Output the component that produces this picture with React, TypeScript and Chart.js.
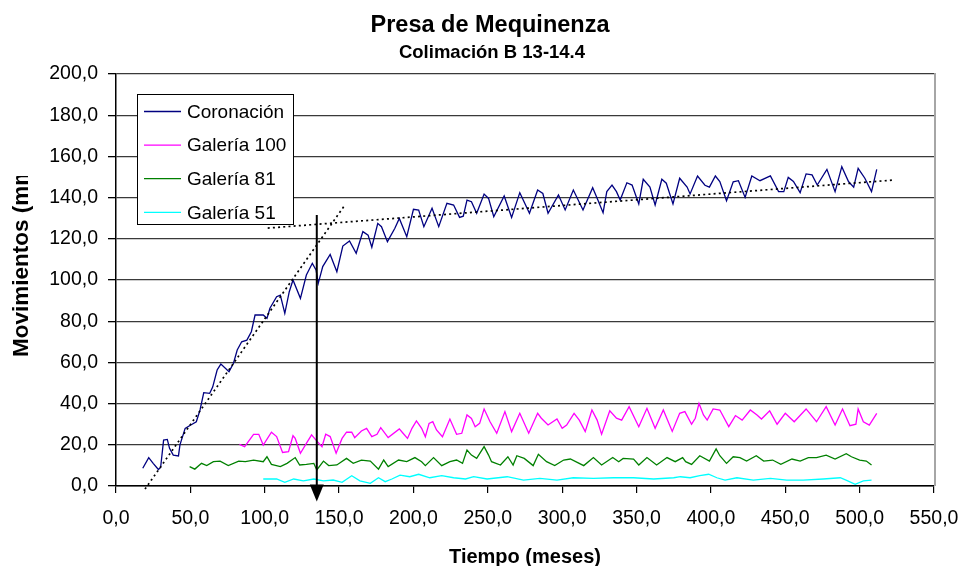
import React, { useEffect, useRef } from 'react';
import { Chart, registerables } from 'chart.js';

Chart.register(...registerables);

const FONT = '"Liberation Sans", Arial, Helvetica, sans-serif';

// ---- Data ----
const coronacionX = [18, 22, 25, 28.5, 30, 32, 34.5, 36, 38.5, 42, 43, 46.5, 50, 54, 56.5, 59, 63, 65, 68, 70.5, 76, 79, 81.5, 84.5, 88, 91, 93.5, 99, 101.5, 103.5, 108, 110.5, 113.5, 116.5, 119, 124, 128, 132, 134.5, 136, 139, 144, 148.5, 152.5, 157, 161.5, 166, 169.5, 172, 176, 178.5, 182.5, 187.5, 190.5, 195.5, 200, 203.5, 207, 212.5, 217, 222.5, 227, 231, 233.5, 236, 239, 242.5, 247.5, 250.5, 254, 261, 266, 271.5, 278, 283.5, 287, 290.5, 297.5, 302, 307.5, 314, 320.5, 324, 327.5, 330, 333.5, 336.5, 339, 343.5, 347, 351.5, 354.5, 359, 362.5, 367, 370, 374.5, 379, 384, 386, 391, 396, 399, 403, 406, 410.5, 415, 418.5, 423, 427.5, 433, 440, 445.5, 449, 452, 455.5, 460, 464, 468, 471.5, 478, 483.5, 488, 492.5, 496, 499, 503.5, 508, 511.5];
const coronacionY = [8.6, 13.8, 11, 8, 9, 22.3, 22.6, 18.3, 15, 14.6, 20, 28, 29.5, 31.2, 36.9, 45.3, 45, 48, 56.3, 59.2, 55.5, 59.6, 66, 70, 70.8, 74.9, 83, 83, 81.4, 86.3, 91.9, 92.7, 83.8, 94.3, 100, 91.1, 102.4, 108.1, 104.9, 98.4, 106.5, 112.4, 104, 116.5, 119, 113, 123.5, 121.8, 115.9, 127.5, 125.9, 118.6, 125.1, 129.9, 121, 134.3, 133.9, 125.9, 134.8, 125.9, 137.2, 136.4, 130.4, 131, 138.8, 138, 132.4, 141.7, 139.6, 130.7, 140.8, 130.4, 142.4, 132.4, 143.7, 142, 132.4, 141.3, 134, 143.7, 134, 144.8, 138.8, 132.7, 142.9, 146.1, 142.9, 138.8, 147.2, 146.1, 136.9, 148.9, 145.1, 136.4, 148.9, 147, 136.9, 149.4, 145.1, 141.8, 150.5, 146, 145.1, 150.5, 147.8, 138.5, 147.7, 148.2, 140.1, 150.5, 148.2, 150.5, 142.9, 142.9, 149.8, 147.8, 142.4, 151.5, 151, 146.1, 153.7, 142.9, 155, 147.8, 145.1, 154.2, 149.4, 142.9, 153.7];

const galeria100X = [83, 86.5, 92.5, 96, 99, 104.5, 108, 112, 116, 119, 120.5, 124, 128, 131.5, 134.5, 138.5, 141, 144, 148, 152, 155, 158.5, 160.5, 165, 168.5, 172, 175.5, 178, 183, 190.5, 193, 196, 199, 202, 205.5, 208, 210.5, 213, 215.5, 219.5, 224.5, 229, 232.5, 236, 239, 241.5, 244.5, 247.5, 251.5, 256, 261.5, 266, 271.5, 277.5, 283.5, 286, 290.5, 296.5, 300, 303, 308, 311.5, 315.5, 320, 323.5, 326.5, 332, 336.5, 340, 345, 351.5, 357, 362.5, 368, 374, 379, 382.5, 387, 389.5, 392, 395, 397.5, 401.5, 406, 412, 416.5, 421, 426.5, 431, 434, 439.5, 444.5, 450, 456, 464, 471, 477.5, 483.5, 488.5, 493.5, 497.5, 499, 502.5, 506.5, 511.5];
const galeria100Y = [20.2, 19.1, 25.1, 25.1, 19.9, 26.1, 24, 16.3, 16.7, 24.4, 23.1, 15.9, 20.7, 24.8, 22.3, 19.1, 25.1, 24, 15.9, 23.1, 26.1, 26.1, 23.5, 26.7, 28, 24, 25.1, 28.3, 23.5, 27.7, 25.6, 23.1, 28, 31.6, 28, 23.9, 30.4, 31.2, 27.2, 23.9, 32.5, 25.1, 25.6, 34.5, 32.8, 28.8, 30.4, 37.4, 31.2, 25.6, 36.1, 26.4, 35.3, 25.6, 35.3, 32.9, 29.6, 32.5, 28, 29.6, 35.3, 32, 26.4, 36.9, 32, 25.1, 36.5, 32.9, 32, 38.5, 28.8, 37.7, 28, 36.9, 26.5, 35.3, 36.1, 30, 32.9, 40.1, 34.5, 32, 37.4, 36.9, 28.8, 34.2, 32, 36.9, 34.5, 32.5, 36.5, 30, 35.3, 31.2, 37.4, 31.2, 38.5, 29.6, 37.4, 29.3, 30, 37.4, 31.2, 29.6, 35.3];

const galeria81X = [49.5, 53, 57.5, 61, 65.5, 70, 75.5, 82.5, 87, 92.5, 99, 101.5, 104.5, 110.5, 115, 120.5, 123.5, 128, 133, 135, 139.5, 143, 148.5, 155, 159.5, 165, 171, 176.5, 180, 183, 190, 195.5, 201, 205.5, 208, 213.5, 219, 224.5, 229, 233, 236, 239, 242.5, 247.5, 250.5, 252.5, 258.5, 263.5, 267, 269.5, 274.5, 280.5, 284, 289.5, 295, 301, 305.5, 314.5, 321, 326.5, 334, 338, 341, 348, 351.5, 357, 363.5, 370.5, 376, 381, 383, 387, 392.5, 399, 403.5, 406, 410.5, 415, 419.5, 424, 430.5, 435.5, 441.5, 447, 454.5, 460, 465.5, 471, 477.5, 483.5, 491, 494.5, 500, 504.5, 508];
const galeria81Y = [9.4, 8.2, 11, 9.9, 11.8, 12.1, 9.9, 12.1, 11.8, 12.6, 11.8, 14.2, 10.5, 9.4, 11, 13.8, 10.2, 10.5, 11, 7.8, 12.1, 9.9, 10.2, 13.4, 11, 12.6, 12.1, 8.2, 12.6, 9.4, 12.6, 11.8, 13.8, 11.8, 9.9, 13.8, 9.9, 11.8, 12.6, 11, 17.5, 15, 13.4, 19.1, 15, 11.8, 10.2, 14.2, 10.2, 14.7, 13.4, 9.9, 15.4, 11.8, 9.9, 12.6, 13.1, 9.9, 13.8, 10.2, 13.8, 11.8, 13.4, 13.1, 10.2, 13.8, 10.2, 13.8, 11.8, 13.8, 11.8, 10.5, 14.7, 12.1, 18, 14.7, 11, 14.2, 13.8, 12.1, 14.7, 12.1, 12.6, 10.5, 13.1, 12.1, 13.8, 13.8, 15, 13.1, 15.7, 14.2, 12.6, 12.1, 10.2];

const galeria51X = [99, 108, 113.5, 119.5, 126, 133, 139.5, 146, 152, 158.5, 164, 171, 176.5, 181, 185.5, 191, 197.5, 203.5, 211, 219, 227, 235, 240.5, 249.5, 263, 274, 285, 296.5, 307.5, 321, 334.5, 348, 361.5, 375, 379.5, 386, 392.5, 398.5, 404, 409.5, 417.5, 428.5, 440, 451, 462, 475.5, 487, 492, 497, 502.5, 508];
const galeria51Y = [3.4, 3.4, 1.8, 3.4, 2.5, 3.4, 2.5, 2.9, 1.8, 5, 2.5, 1.3, 4, 2.1, 3.4, 5.3, 4.5, 5.7, 4, 5, 4, 3.4, 4.5, 3.4, 4.5, 2.9, 3.7, 2.9, 4, 3.7, 4, 4, 3.4, 4, 4.5, 4, 5, 5.7, 4, 2.9, 4, 2.9, 3.7, 2.9, 2.9, 3.4, 4, 2.5, 0.8, 2.5, 2.9];

// dotted trend lines
const trendSteepX = [19.5, 153.5];
const trendSteepY = [-1.5, 136];
const trendFlatX = [102, 522.5];
const trendFlatY = [125.2, 148.5];

// vertical arrow
const arrowX = 135;
const arrowTopY = 131.5;
const arrowTipY = -7.5;

const seriesNames = ['Coronación', 'Galería 100', 'Galería 81', 'Galería 51'];
const seriesColors = ['#000080', '#ff00ff', '#008000', '#00ffff'];

const titleText = 'Presa de Mequinenza';
const subtitleText = 'Colimación B 13-14.4';
const xTitleText = 'Tiempo (meses)';
const yTitleText = 'Movimientos (mm)';

const xMin = 0, xMax = 550, xStep = 50;
const yMin = 0, yMax = 200, yStep = 20;

const toPoints = (xs: number[], ys: number[]) => xs.map((x, i) => ({ x, y: ys[i] }));
const fmt = (v: number | string) => Number(v).toFixed(1).replace('.', ',');

const decorPlugin = {
  id: 'decor',
  afterDraw(chart: any) {
    const { ctx, chartArea, scales } = chart;
    ctx.save();

    // right border of plot area
    ctx.strokeStyle = '#a6a6a6';
    ctx.lineWidth = 2;
    ctx.beginPath();
    ctx.moveTo(chartArea.right + 1, chartArea.top - 1);
    ctx.lineTo(chartArea.right + 1, chartArea.bottom);
    ctx.stroke();

    // arrow
    const ax = scales.x.getPixelForValue(arrowX);
    const ayTop = scales.y.getPixelForValue(arrowTopY);
    const ayTip = scales.y.getPixelForValue(arrowTipY);
    ctx.strokeStyle = '#000';
    ctx.lineWidth = 2;
    ctx.beginPath();
    ctx.moveTo(ax, ayTop);
    ctx.lineTo(ax, ayTip - 10);
    ctx.stroke();
    ctx.fillStyle = '#000';
    ctx.beginPath();
    ctx.moveTo(ax - 7, ayTip - 17);
    ctx.lineTo(ax + 7, ayTip - 17);
    ctx.lineTo(ax, ayTip);
    ctx.closePath();
    ctx.fill();

    // legend box
    const bx = 137.5, by = 94.5, bw = 156, bh = 130;
    ctx.fillStyle = '#fff';
    ctx.fillRect(bx, by, bw, bh);
    ctx.strokeStyle = '#000';
    ctx.lineWidth = 1;
    ctx.strokeRect(bx, by, bw, bh);
    ctx.font = `19px ${FONT}`;
    ctx.textBaseline = 'middle';
    ctx.textAlign = 'left';
    seriesNames.forEach((name, i) => {
      const ry = 111.5 + i * 33.6;
      ctx.strokeStyle = seriesColors[i];
      ctx.lineWidth = 1.3;
      ctx.beginPath();
      ctx.moveTo(144, ry);
      ctx.lineTo(181, ry);
      ctx.stroke();
      ctx.fillStyle = '#000';
      ctx.fillText(name, 187, ry + 1);
    });

    // titles
    ctx.fillStyle = '#000';
    ctx.textAlign = 'center';
    ctx.textBaseline = 'alphabetic';
    ctx.font = `bold 23.5px ${FONT}`;
    ctx.fillText(titleText, 490, 32);
    ctx.font = `bold 18.5px ${FONT}`;
    ctx.fillText(subtitleText, 492, 58);
    ctx.font = `bold 20px ${FONT}`;
    ctx.fillText(xTitleText, (chartArea.left + chartArea.right) / 2, 563);

    // y title (rotated, clipped as in the reference)
    ctx.save();
    ctx.beginPath();
    ctx.rect(0, 176, 60, 400);
    ctx.clip();
    ctx.translate(28, 357);
    ctx.rotate(-Math.PI / 2);
    ctx.textAlign = 'left';
    ctx.font = `bold 22.5px ${FONT}`;
    ctx.fillText(yTitleText, 0, 0);
    ctx.restore();

    ctx.restore();
  },
};

export default function App() {
  const ref = useRef<HTMLCanvasElement | null>(null);

  useEffect(() => {
    document.body.style.margin = '0';
    const canvas = ref.current;
    if (!canvas) return;

    const lineDs = (label: string, xs: number[], ys: number[], color: string) => ({
      label,
      data: toPoints(xs, ys),
      borderColor: color,
      backgroundColor: color,
      borderWidth: 1.3,
      pointRadius: 0,
      tension: 0,
      fill: false,
    });

    const trendDs = (xs: number[], ys: number[]) => ({
      label: 'trend',
      data: toPoints(xs, ys),
      borderColor: '#000',
      borderWidth: 1.7,
      borderDash: [2, 3.2],
      pointRadius: 0,
      fill: false,
      clip: false as any,
    });

    const chart = new Chart(canvas, {
      type: 'line',
      data: {
        datasets: [
          trendDs(trendSteepX, trendSteepY),
          trendDs(trendFlatX, trendFlatY),
          lineDs(seriesNames[0], coronacionX, coronacionY, seriesColors[0]),
          lineDs(seriesNames[1], galeria100X, galeria100Y, seriesColors[1]),
          lineDs(seriesNames[2], galeria81X, galeria81Y, seriesColors[2]),
          lineDs(seriesNames[3], galeria51X, galeria51Y, seriesColors[3]),
        ] as any,
      },
      options: {
        responsive: false,
        maintainAspectRatio: false,
        animation: false,
        devicePixelRatio: 1,
        events: [],
        layout: { padding: { left: 0, right: 29, top: 74, bottom: 0 } },
        plugins: {
          legend: { display: false },
          title: { display: false },
          tooltip: { enabled: false },
        },
        scales: {
          x: {
            type: 'linear',
            min: xMin,
            max: xMax,
            ticks: {
              stepSize: xStep,
              autoSkip: false,
              maxRotation: 0,
              color: '#000',
              padding: 14,
              font: { family: FONT, size: 19.5 },
              callback: (v: any) => fmt(v),
            },
            grid: {
              drawOnChartArea: false,
              drawTicks: true,
              tickLength: 7,
              color: '#000',
              lineWidth: 1.2,
            },
            border: { display: true, color: '#000', width: 1.5 },
            afterFit: (s: any) => {
              s.height = 80;
              s.paddingLeft = 0;
              s.paddingRight = 0;
            },
          },
          y: {
            type: 'linear',
            min: yMin,
            max: yMax,
            ticks: {
              stepSize: yStep,
              color: '#000',
              padding: 10,
              font: { family: FONT, size: 19.5 },
              callback: (v: any) => fmt(v),
            },
            grid: {
              color: '#3a3a3a',
              lineWidth: 1.3,
              tickLength: 8,
              tickColor: '#000',
            },
            border: { display: true, color: '#000', width: 1.5 },
            afterFit: (s: any) => {
              s.width = 116;
              s.paddingTop = 0;
              s.paddingBottom = 0;
            },
          },
        },
      } as any,
      plugins: [decorPlugin],
    });

    return () => chart.destroy();
  }, []);

  return (
    <div style={{ position: 'absolute', left: 0, top: 0, width: 963, height: 566, background: '#fff' }}>
      <canvas ref={ref} width={963} height={566} style={{ display: 'block', width: 963, height: 566 }} />
    </div>
  );
}
